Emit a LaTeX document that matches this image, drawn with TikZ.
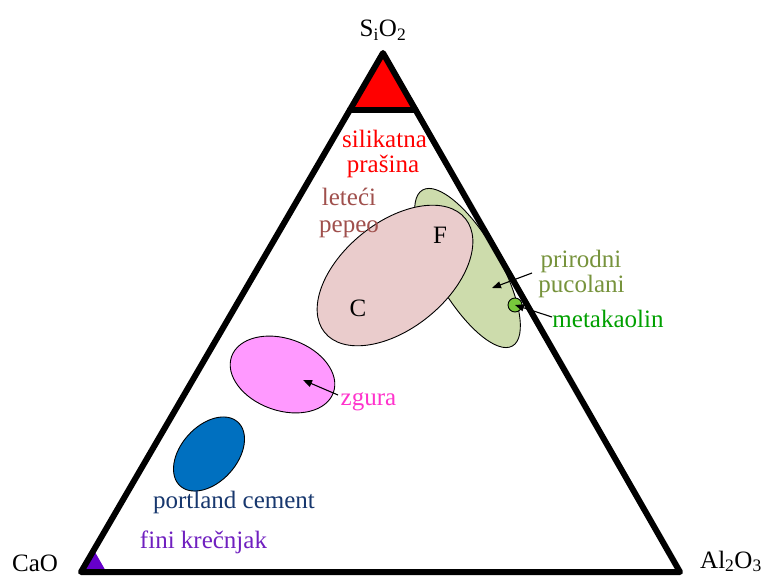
\documentclass[tikz,border=0pt]{standalone}
\usepackage{fontspec}
\setmainfont{Liberation Serif}
\usetikzlibrary{shapes.geometric,arrows.meta}
\definecolor{capred}{RGB}{255,0,0}
\definecolor{peptext}{RGB}{160,80,77}
\definecolor{rosefill}{RGB}{234,204,204}
\definecolor{greenfill}{RGB}{205,220,172}
\definecolor{olivetext}{RGB}{119,147,60}
\definecolor{metatext}{RGB}{0,160,0}
\definecolor{metafill}{RGB}{120,200,60}
\definecolor{pinkfill}{RGB}{255,153,255}
\definecolor{pinktext}{RGB}{255,51,204}
\definecolor{bluefill}{RGB}{0,112,192}
\definecolor{navytext}{RGB}{23,55,110}
\definecolor{purplecap}{RGB}{102,0,204}
\definecolor{purpletext}{RGB}{112,32,192}
\begin{document}
\begin{tikzpicture}[x=1pt,y=-1pt,
  lbl/.style={font=\fontsize{25}{30}\selectfont, inner sep=0pt, anchor=base},
  blob/.style={ellipse, draw=black, line width=0.9pt, inner sep=0pt},
  arr/.style={-{Triangle[length=9pt,width=7pt]}, line width=1.1pt},
  edgeline/.style={line width=6pt, line join=round, line cap=round}]
\useasboundingbox (0,0) rectangle (770,578);
\fill[white] (0,0) rectangle (770,578);
% regions
\node[blob, fill=greenfill, minimum width=180pt, minimum height=64pt, rotate=-60] (pucolan) at (467.5,268) {};
\node[blob, fill=rosefill, minimum width=181pt, minimum height=106pt, rotate=39] (pepeo) at (395,275.5) {};
\node[circle, draw=black, line width=0.9pt, fill=metafill, minimum size=14pt, inner sep=0pt] (meta) at (515,305) {};
\node[blob, fill=pinkfill, minimum width=108pt, minimum height=72pt, rotate=-19.5] (zgura) at (282.5,374.5) {};
\node[blob, fill=bluefill, minimum width=86pt, minimum height=56pt, rotate=48] (cement) at (209,454) {};
% triangle corners
\coordinate (top) at (383,53);
\coordinate (bl) at (81,572);
\coordinate (br) at (680,572);
\coordinate (capL) at (349.8,110);
\coordinate (capR) at (415.6,110);
\coordinate (limA) at (93.8,550);
\coordinate (limB) at (106.4,572);
\fill[purplecap] (bl) -- (limA) -- (limB) -- cycle;
\fill[capred] (top) -- (capL) -- (capR) -- cycle;
\draw[edgeline] (top) -- (bl) -- (br) -- cycle;
\draw[edgeline] (capL) -- (capR);
% labels
\node[lbl] (sio2) at (383,37) {S\textsubscript{i}O\textsubscript{2}};
\node[lbl, anchor=base west] (cao) at (12,571) {CaO};
\node[lbl, anchor=base west] (al) at (700,568) {Al\textsubscript{2}O\textsubscript{3}};
\node[lbl, text=capred] (sil1) at (384.5,147) {silikatna};
\node[lbl, text=capred] (sil2) at (383,172) {prašina};
\node[lbl, text=peptext] (pep1) at (349,205) {leteći};
\node[lbl, text=peptext] (pep2) at (349,232) {pepeo};
\node[lbl] (lf) at (440,243) {F};
\node[lbl] (lc) at (358,316) {C};
\node[lbl, text=olivetext] (pr1) at (581,267) {prirodni};
\node[lbl, text=olivetext] (pr2) at (581.5,292) {pucolani};
\node[lbl, text=metatext] (mk) at (608,327) {metakaolin};
\node[lbl, text=pinktext] (zg) at (368.5,405) {zgura};
\node[lbl, text=navytext] (pc) at (234,508) {portland cement};
\node[lbl, text=purpletext] (fk) at (203.5,548) {fini krečnjak};
% arrows
\coordinate (prTail) at (532,273);
\coordinate (prTip) at (492,288);
\coordinate (mkTail) at (552,317);
\coordinate (zgTail) at (338,395);
\coordinate (zgTip) at (303,380);
\draw[arr] (prTail) -- (prTip);
\draw[arr] (mkTail) -- (meta.center);
\draw[arr] (zgTail) -- (zgTip);
\end{tikzpicture}
\end{document}
